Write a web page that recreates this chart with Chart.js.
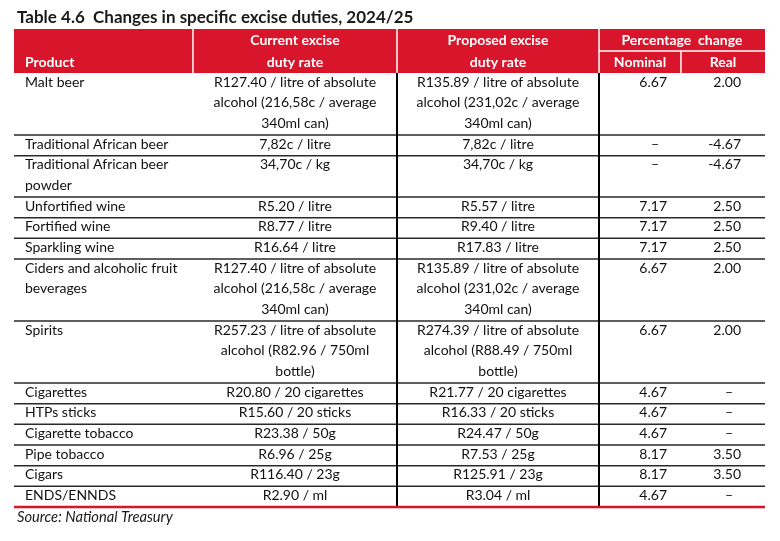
<!DOCTYPE html>
<html>
<head>
<meta charset="utf-8">
<script src="https://cdn.jsdelivr.net/npm/chart.js@4/dist/chart.umd.min.js"></script>
<style>
  html, body { margin: 0; padding: 0; background: #fff; }
  #wrap { width: 780px; height: 541px; }
</style>
</head>
<body>
<div id="wrap"><canvas id="excise" width="780" height="541"></canvas></div>
<script>
// -----------------------------
// TABLE DATA
// -----------------------------
const tableTitle = 'Table 4.6  Changes in specific excise duties, 2024/25';
const sourceNote = 'Source: National Treasury';

const headTop = ['', 'Current excise', 'Proposed excise', 'Percentage  change'];
const headBottom = ['Product', 'duty rate', 'duty rate', 'Nominal', 'Real'];

const products = [
    ['Malt beer'],
    ['Traditional African beer'],
    ['Traditional African beer', 'powder'],
    ['Unfortified wine'],
    ['Fortified wine'],
    ['Sparkling wine'],
    ['Ciders and alcoholic fruit', 'beverages'],
    ['Spirits'],
    ['Cigarettes'],
    ['HTPs sticks'],
    ['Cigarette tobacco'],
    ['Pipe tobacco'],
    ['Cigars'],
    ['ENDS/ENNDS']
];

const currentRate = [
    ['R127.40 / litre of absolute', 'alcohol (216,58c / average', '340ml can)'],
    ['7,82c / litre'],
    ['34,70c / kg'],
    ['R5.20 / litre'],
    ['R8.77 / litre'],
    ['R16.64 / litre'],
    ['R127.40 / litre of absolute', 'alcohol (216,58c / average', '340ml can)'],
    ['R257.23 / litre of absolute', 'alcohol (R82.96 / 750ml', 'bottle)'],
    ['R20.80 / 20 cigarettes'],
    ['R15.60 / 20 sticks'],
    ['R23.38 / 50g'],
    ['R6.96 / 25g'],
    ['R116.40 / 23g'],
    ['R2.90 / ml']
];

const proposedRate = [
    ['R135.89 / litre of absolute', 'alcohol (231,02c / average', '340ml can)'],
    ['7,82c / litre'],
    ['34,70c / kg'],
    ['R5.57 / litre'],
    ['R9.40 / litre'],
    ['R17.83 / litre'],
    ['R135.89 / litre of absolute', 'alcohol (231,02c / average', '340ml can)'],
    ['R274.39 / litre of absolute', 'alcohol (R88.49 / 750ml', 'bottle)'],
    ['R21.77 / 20 cigarettes'],
    ['R16.33 / 20 sticks'],
    ['R24.47 / 50g'],
    ['R7.53 / 25g'],
    ['R125.91 / 23g'],
    ['R3.04 / ml']
];

// null = no change shown (dash)
const nominalChange = [6.67, null, null, 7.17, 7.17, 7.17, 6.67, 6.67, 4.67, 4.67, 4.67, 8.17, 8.17, 4.67];
const realChange = [2.00, -4.67, -4.67, 2.50, 2.50, 2.50, 2.00, 2.00, null, null, null, 3.50, 3.50, null];


// -----------------------------
// LAYOUT (x in table units, y in text lines)
// -----------------------------
const colEdges = [0, 179, 383, 585, 667, 751];
const headLines = 2.13;
const RED = '#d9152b';
const FONT = 'Lato, "Open Sans", sans-serif';

const rowLines = products.map((p, i) =>
    Math.max(p.length, currentRate[i].length, proposedRate[i].length));
const rowStart = [];
rowLines.reduce((acc, n) => { rowStart.push(acc); return acc + n; }, 0);
const totalLines = rowLines.reduce((a, b) => a + b, 0);

const fmt = v => v === null ? '–' : v.toFixed(2);


// -----------------------------
// TABLE PLUGIN
// -----------------------------
const tablePlugin = {
    id: 'exciseTable',
    afterDraw(chart) {
        const ctx = chart.ctx;
        const xs = chart.scales.x;
        const ys = chart.scales.y;
        const X = v => xs.getPixelForValue(v);
        const Y = v => ys.getPixelForValue(v);

        ctx.save();

        // header band
        const hTop = Y(-headLines), hMid = Y(-headLines / 2), hBot = Y(0);
        ctx.fillStyle = RED;
        ctx.fillRect(X(colEdges[0]), hTop, X(colEdges[5]) - X(colEdges[0]), hBot - hTop);

        ctx.strokeStyle = '#fff';
        ctx.lineWidth = 1.5;
        ctx.beginPath();
        [1, 2, 3].forEach(c => {
            ctx.moveTo(X(colEdges[c]), hTop);
            ctx.lineTo(X(colEdges[c]), hBot);
        });
        ctx.moveTo(X(colEdges[4]), hMid);
        ctx.lineTo(X(colEdges[4]), hBot);
        ctx.moveTo(X(colEdges[3]), hMid);
        ctx.lineTo(X(colEdges[5]), hMid);
        ctx.stroke();

        // header text
        ctx.fillStyle = '#fff';
        ctx.font = 'bold 14px ' + FONT;
        ctx.textBaseline = 'middle';
        const yh1 = (hTop + hMid) / 2, yh2 = (hMid + hBot) / 2;
        ctx.textAlign = 'left';
        ctx.fillText(headBottom[0], X(colEdges[0] + 11), yh2);
        ctx.textAlign = 'center';
        [1, 2].forEach(c => {
            const cx = X((colEdges[c] + colEdges[c + 1]) / 2);
            ctx.fillText(headTop[c], cx, yh1);
            ctx.fillText(headBottom[c], cx, yh2);
        });
        ctx.fillText(headTop[3], X((colEdges[3] + colEdges[5]) / 2), yh1);
        ctx.fillText(headBottom[3], X((colEdges[3] + colEdges[4]) / 2), yh2);
        ctx.fillText(headBottom[4], X((colEdges[4] + colEdges[5]) / 2), yh2);

        // body text
        ctx.fillStyle = '#111';
        ctx.font = '14px ' + FONT;
        products.forEach((p, i) => {
            const r = rowStart[i];
            ctx.textAlign = 'left';
            p.forEach((t, k) => ctx.fillText(t, X(colEdges[0] + 11), Y(r + k + 0.45)));
            ctx.textAlign = 'center';
            currentRate[i].forEach((t, k) =>
                ctx.fillText(t, X((colEdges[1] + colEdges[2]) / 2), Y(r + k + 0.45)));
            proposedRate[i].forEach((t, k) =>
                ctx.fillText(t, X((colEdges[2] + colEdges[3]) / 2), Y(r + k + 0.45)));

            [[nominalChange[i], colEdges[4] - 14], [realChange[i], colEdges[5] - 24]]
                .forEach(([v, right]) => {
                    if (v === null) {
                        ctx.textAlign = 'center';
                        ctx.fillText(fmt(v), X(right - 12), Y(r + 0.45));
                    } else {
                        ctx.textAlign = 'right';
                        ctx.fillText(fmt(v), X(right), Y(r + 0.45));
                    }
                });
        });

        // row rules
        ctx.strokeStyle = '#2a2a2a';
        ctx.lineWidth = 1.5;
        ctx.beginPath();
        rowStart.slice(1).forEach(r => {
            ctx.moveTo(X(colEdges[0]), Y(r));
            ctx.lineTo(X(colEdges[5]), Y(r));
        });
        ctx.stroke();

        // column rules
        ctx.strokeStyle = '#000';
        ctx.lineWidth = 2;
        ctx.beginPath();
        [2, 3].forEach(c => {
            ctx.moveTo(X(colEdges[c]), Y(0));
            ctx.lineTo(X(colEdges[c]), Y(totalLines));
        });
        ctx.stroke();

        // closing red rule
        ctx.strokeStyle = RED;
        ctx.lineWidth = 2.5;
        ctx.beginPath();
        ctx.moveTo(X(colEdges[0]), Y(totalLines));
        ctx.lineTo(X(colEdges[5]), Y(totalLines));
        ctx.stroke();

        ctx.restore();
    }
};


// -----------------------------
// CHART
// -----------------------------
new Chart(document.getElementById('excise'), {
    type: 'scatter',
    data: { datasets: [] },
    plugins: [tablePlugin],
    options: {
        responsive: false,
        animation: false,
        layout: { padding: { left: 17, right: 15, top: 0, bottom: 0 } },
        scales: {
            // chart area starts 3 units in, so the table edge sits at x=14
            x: { type: 'linear', min: 3, max: colEdges[5], display: false },
            y: { type: 'linear', min: -headLines, max: totalLines, reverse: true, display: false }
        },
        plugins: {
            legend: { display: false },
            tooltip: { enabled: false },
            title: {
                display: true,
                text: tableTitle,
                align: 'start',
                color: '#1a1a1a',
                font: { family: FONT, size: 17, weight: 'bold', lineHeight: 1.2 },
                padding: { top: 7, bottom: 1.6 }
            },
            subtitle: {
                display: true,
                text: sourceNote,
                position: 'bottom',
                align: 'start',
                color: '#1a1a1a',
                font: { family: FONT, size: 14.7, style: 'italic', lineHeight: 1.2 },
                padding: { top: 1.6, bottom: 14.8 }
            }
        }
    }
});
</script>
</body>
</html>
